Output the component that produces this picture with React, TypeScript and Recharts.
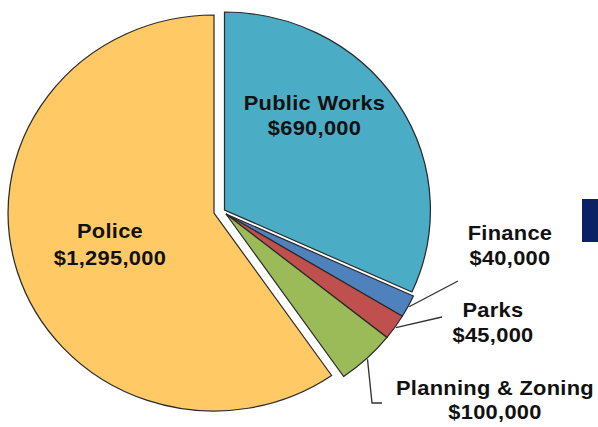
import React from 'react';
import { PieChart, Pie, Cell, Customized } from 'recharts';

const departments = ['Public Works', 'Finance', 'Parks', 'Planning & Zoning', 'Police'];
const budgets = [690000, 40000, 45000, 100000, 1295000];
const valueLabels = ['$690,000', '$40,000', '$45,000', '$100,000', '$1,295,000'];

const colors: Record<string, string> = {
  'Public Works': '#4BACC6',
  Finance: '#4F81BD',
  Parks: '#C0504D',
  'Planning & Zoning': '#9BBB59',
  Police: '#FFCA66',
};

const data = departments.map((name, i) => ({ name, value: budgets[i], money: valueLabels[i] }));

// the original picture is slightly wider than tall
const STRETCH = 1.04;
const W = 598 / STRETCH;

// exploded groups (pie centres, in unstretched units)
const groups = [
  { key: 'pw', cx: 224.5 / STRETCH, cy: 210, members: ['Public Works'] },
  { key: 'small', cx: 226 / STRETCH, cy: 214, members: ['Finance', 'Parks', 'Planning & Zoning'] },
  { key: 'police', cx: 214 / STRETCH, cy: 213, members: ['Police'] },
];

const s = (v: number) => v / STRETCH;
const placement: Record<string, { dx: number; dy1: number; dy2: number; line?: number[][] }> = {
  'Public Works': { dx: s(90), dy1: -100, dy2: -75 },
  Police: { dx: s(-104), dy1: 25, dy2: 52 },
  Finance: { dx: s(284), dy1: 26, dy2: 51, line: [[s(232), 67]] },
  Parks: { dx: s(267), dy1: 103, dy2: 128, line: [[s(216), 103]] },
  'Planning & Zoning': { dx: s(269), dy1: 181, dy2: 205, line: [[s(146), 189], [s(156), 189]] },
};

const RAD = Math.PI / 180;
const textStyle = {
  fontFamily: '"Liberation Sans", Arial, sans-serif',
  fontWeight: 700,
  fontSize: 21,
  letterSpacing: 0.3,
};

const makeLabel = (members: string[]) => (props: any) => {
  const { cx, cy, midAngle, outerRadius, name, payload } = props;
  if (!members.includes(name)) return null;
  const p = placement[name];
  const money = payload?.money ?? (payload?.payload?.money);
  let path: string | null = null;
  if (p.line) {
    const sx = cx + (outerRadius + 1) * Math.cos(-midAngle * RAD);
    const sy = cy + (outerRadius + 1) * Math.sin(-midAngle * RAD);
    path = `M${sx},${sy}` + p.line.map(([x, y]) => ` L${cx + x},${cy + y}`).join('');
  }
  return (
    <g key={`lbl-${name}`}>
      {path && <path d={path} stroke="#333" strokeWidth={1.3} fill="none" />}
      <text x={cx + p.dx} y={cy + p.dy1} textAnchor="middle" fill="#111" style={textStyle}>
        {name}
      </text>
      <text x={cx + p.dx} y={cy + p.dy2} textAnchor="middle" fill="#111" style={textStyle}>
        {money}
      </text>
    </g>
  );
};

const NavyBlock = () => <rect x={582 / STRETCH} y={199} width={20} height={43} fill="#0B2163" />;

export default function App() {
  return (
    <div
      style={{
        position: 'absolute',
        left: 0,
        top: 0,
        width: W,
        height: 427,
        background: '#fff',
        transform: `scaleX(${STRETCH})`,
        transformOrigin: '0 0',
      }}
    >
      <PieChart width={W} height={427} margin={{ top: 0, right: 0, bottom: 0, left: 0 }}>
        {groups.map((g) => (
          <Pie
            key={g.key}
            data={data}
            dataKey="value"
            nameKey="name"
            cx={g.cx}
            cy={g.cy}
            outerRadius={198}
            innerRadius={0}
            startAngle={90}
            endAngle={-270}
            isAnimationActive={false}
            label={makeLabel(g.members)}
            labelLine={false}
          >
            {data.map((d) => {
              const on = g.members.includes(d.name);
              return (
                <Cell
                  key={d.name}
                  fill={on ? colors[d.name] : 'none'}
                  stroke={on ? '#2B2B2B' : 'none'}
                  strokeWidth={1.2}
                />
              );
            })}
          </Pie>
        ))}
        <Customized component={NavyBlock} />
      </PieChart>
    </div>
  );
}
